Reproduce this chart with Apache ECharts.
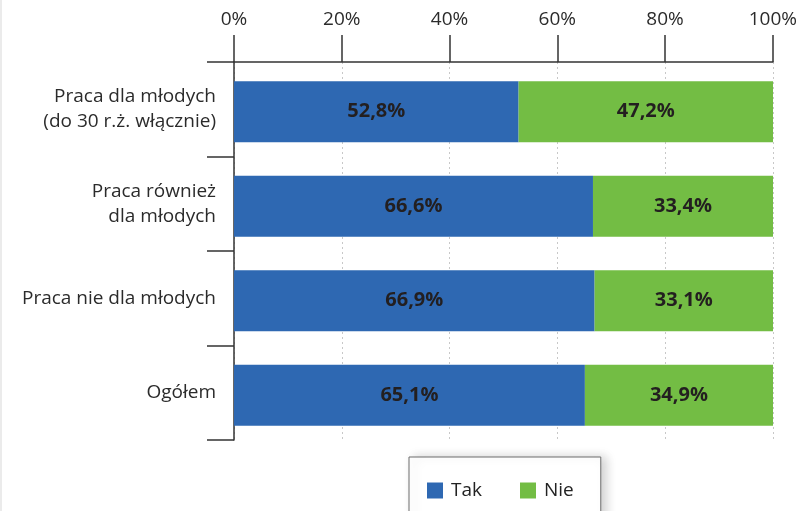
<!DOCTYPE html>
<html>
<head>
<meta charset="utf-8">
<script src="https://cdn.jsdelivr.net/npm/echarts@6/dist/echarts.min.js"></script>
<style>
  html, body { margin: 0; padding: 0; background: #fff; }
  #chart { width: 800px; height: 511px; }
</style>
</head>
<body>
<div id="chart"></div>
<script>
// Share of answers per job category
const categories = [
  'Praca dla młodych\n(do 30 r.ż. włącznie)',
  'Praca również\ndla młodych',
  'Praca nie dla młodych',
  'Ogółem'
];
const seriesNames = ['Tak', 'Nie'];
const takValues = [52.8, 66.6, 66.9, 65.1];
const nieValues = [47.2, 33.4, 33.1, 34.9];
const axisTicks = [0, 20, 40, 60, 80, 100];

const FONT = '"Open Sans", "Noto Sans", sans-serif';
const fmtPct = v => v.toFixed(1).replace('.', ',') + '%';
const AXIS_MIN = axisTicks[0];
const AXIS_MAX = axisTicks[axisTicks.length - 1];
const AXIS_STEP = axisTicks[1] - axisTicks[0];

const valueLabel = {
  show: true,
  position: 'inside',
  fontFamily: FONT,
  fontSize: 20,
  fontWeight: 'bold',
  color: '#231f20',
  formatter: p => fmtPct(p.value)
};

const chart = echarts.init(document.getElementById('chart'), null, { renderer: 'canvas' });
chart.setOption({
  animation: false,
  backgroundColor: '#fff',
  // grid 0: visible frame and axes; grid 1: bars, sitting slightly lower in each band
  grid: [
    { left: 234, right: 27, top: 62, bottom: 71, containLabel: false },
    { left: 234, right: 27, top: 64.5, bottom: 68.5, containLabel: false }
  ],
  xAxis: [
    {
      gridIndex: 0,
      type: 'value',
      position: 'top',
      min: AXIS_MIN,
      max: AXIS_MAX,
      interval: AXIS_STEP,
      axisLine: { show: true, lineStyle: { color: '#333', width: 1.5 } },
      axisTick: { show: true, length: 27, lineStyle: { color: '#333', width: 1.5 } },
      axisLabel: {
        margin: 33,
        fontFamily: FONT,
        fontSize: 19,
        color: '#2b2b2b',
        formatter: v => v + '%'
      },
      splitLine: { show: true, lineStyle: { color: '#c8c8c8', type: [2, 3], width: 1 } }
    },
    {
      gridIndex: 1,
      type: 'value',
      min: AXIS_MIN,
      max: AXIS_MAX,
      interval: AXIS_STEP,
      show: false
    }
  ],
  yAxis: [
    {
      gridIndex: 0,
      type: 'category',
      inverse: true,
      data: categories,
      axisLine: { show: true, lineStyle: { color: '#333', width: 1.5 } },
      axisTick: { show: true, length: 27, lineStyle: { color: '#333', width: 1.5 } },
      axisLabel: {
        margin: 18,
        fontFamily: FONT,
        fontSize: 19,
        lineHeight: 25,
        color: '#2b2b2b',
        align: 'right',
        padding: [0, 0, 9, 0]
      }
    },
    {
      gridIndex: 1,
      type: 'category',
      inverse: true,
      data: categories,
      show: false
    }
  ],
  legend: {
    data: seriesNames,
    left: 409,
    top: 457,
    orient: 'horizontal',
    icon: 'rect',
    itemWidth: 16,
    itemHeight: 16,
    itemGap: 38,
    padding: [24, 27, 40, 18],
    borderColor: '#6d6d6d',
    borderWidth: 1,
    backgroundColor: '#fff',
    shadowColor: 'rgba(0,0,0,0.18)',
    shadowBlur: 10,
    shadowOffsetX: 5,
    textStyle: { fontFamily: FONT, fontSize: 19, color: '#222', padding: [0, 0, 0, 3] }
  },
  series: [
    {
      name: seriesNames[0],
      type: 'bar',
      xAxisIndex: 1,
      yAxisIndex: 1,
      stack: 'total',
      barWidth: 61,
      itemStyle: { color: '#2e68b2' },
      label: valueLabel,
      data: takValues
    },
    {
      name: seriesNames[1],
      type: 'bar',
      xAxisIndex: 1,
      yAxisIndex: 1,
      stack: 'total',
      barWidth: 61,
      itemStyle: { color: '#73bd44' },
      label: valueLabel,
      data: nieValues
    }
  ],
  graphic: [
    {
      type: 'line',
      shape: { x1: 1, y1: 0, x2: 1, y2: 511 },
      style: { stroke: '#e4e4e4', lineWidth: 1.5 },
      silent: true
    }
  ]
});
</script>
</body>
</html>
